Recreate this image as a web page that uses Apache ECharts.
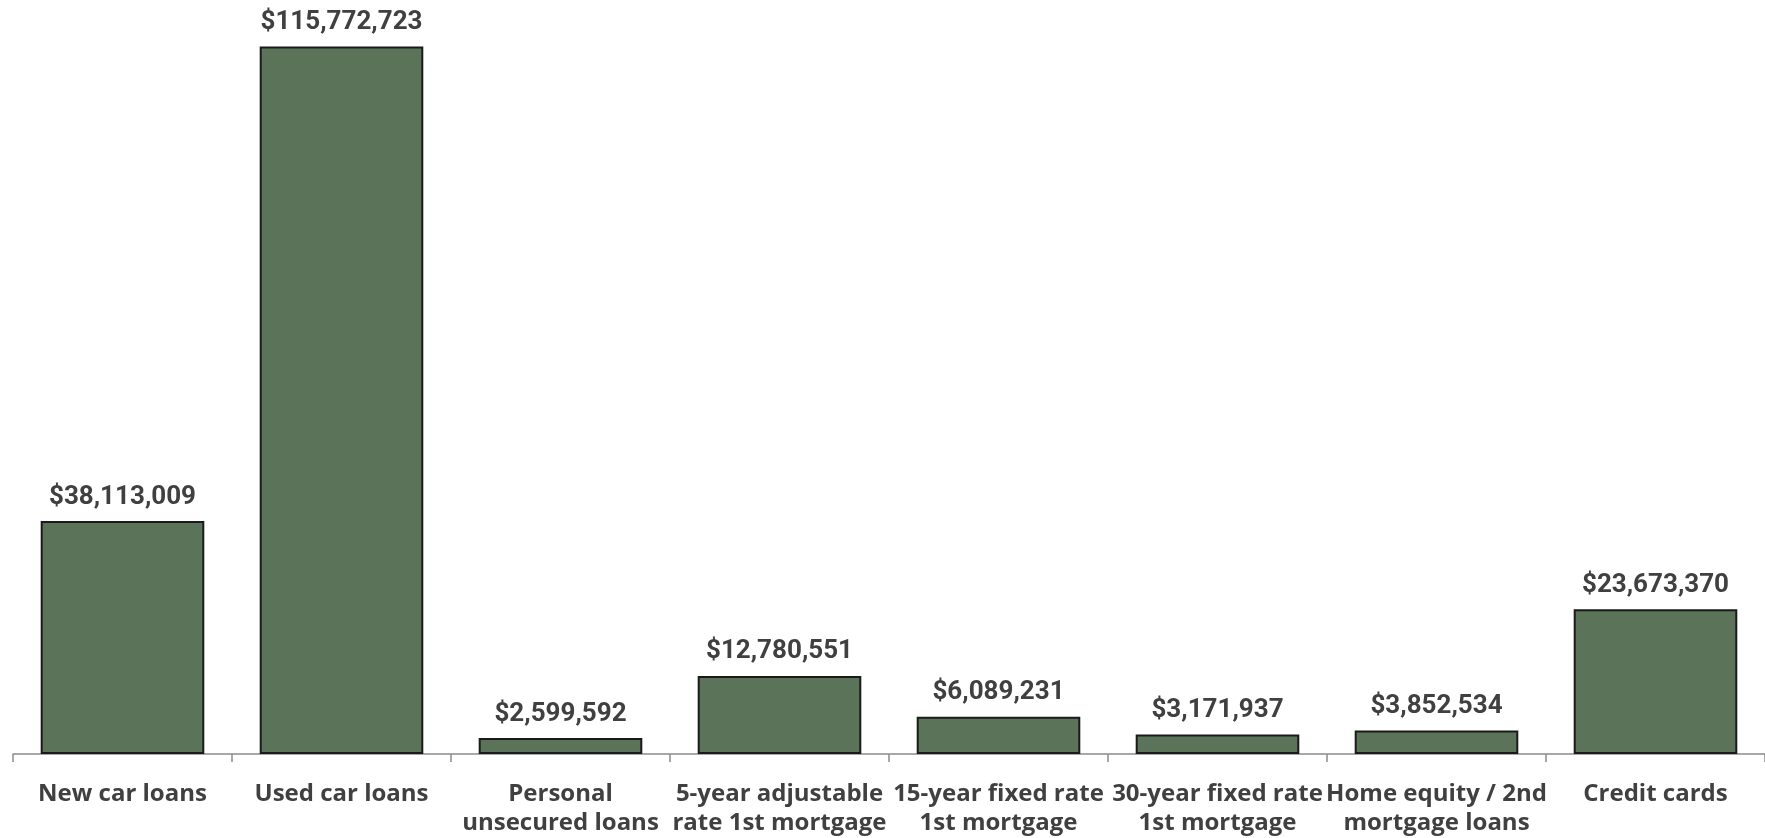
<!DOCTYPE html>
<html>
<head>
<meta charset="utf-8">
<script src="https://cdn.jsdelivr.net/npm/echarts@6/dist/echarts.min.js"></script>
<style>
  html, body { margin: 0; padding: 0; background: #ffffff; }
  #chart { width: 1765px; height: 838px; }
</style>
</head>
<body>
<div id="chart"></div>
<script>
// Loan categories and their outstanding balances (USD)
const categories = [
  'New car loans',
  'Used car loans',
  'Personal\nunsecured loans',
  '5-year adjustable\nrate 1st mortgage',
  '15-year fixed rate\n1st mortgage',
  '30-year fixed rate\n1st mortgage',
  'Home equity / 2nd\nmortgage loans',
  'Credit cards'
];
const balances = [38113009, 115772723, 2599592, 12780551, 6089231, 3171937, 3852534, 23673370];

const fmtDollars = v => '$' + Number(v).toLocaleString('en-US');

const chart = echarts.init(document.getElementById('chart'), null, { renderer: 'canvas' });
chart.setOption({
  animation: false,
  backgroundColor: '#ffffff',
  grid: { left: 13, top: 20.6, width: 1757, height: 734.4, containLabel: false },
  xAxis: {
    type: 'category',
    data: categories,
    axisLine: { show: true, lineStyle: { color: '#8c8c8c', width: 1.5 } },
    axisTick: { show: true, length: 8, alignWithLabel: false, lineStyle: { color: '#8c8c8c', width: 1.5 } },
    axisLabel: {
      interval: 0,
      margin: 26,
      color: '#404040',
      fontFamily: '"Open Sans", Lato, sans-serif',
      fontWeight: 'bold',
      fontSize: 24,
      lineHeight: 29
    }
  },
  yAxis: {
    type: 'value',
    min: 0,
    max: 120000000,
    show: false,
    splitLine: { show: false }
  },
  series: [{
    type: 'bar',
    data: balances,
    barWidth: '74.7%',
    itemStyle: { color: '#5a7359', borderColor: '#1a1a1a', borderWidth: 2 },
    label: {
      show: true,
      position: 'top',
      distance: 11,
      formatter: p => fmtDollars(p.value),
      color: '#404040',
      fontFamily: 'Roboto, "Open Sans", sans-serif',
      fontWeight: 'bold',
      fontSize: 26
    }
  }]
});
</script>
</body>
</html>
